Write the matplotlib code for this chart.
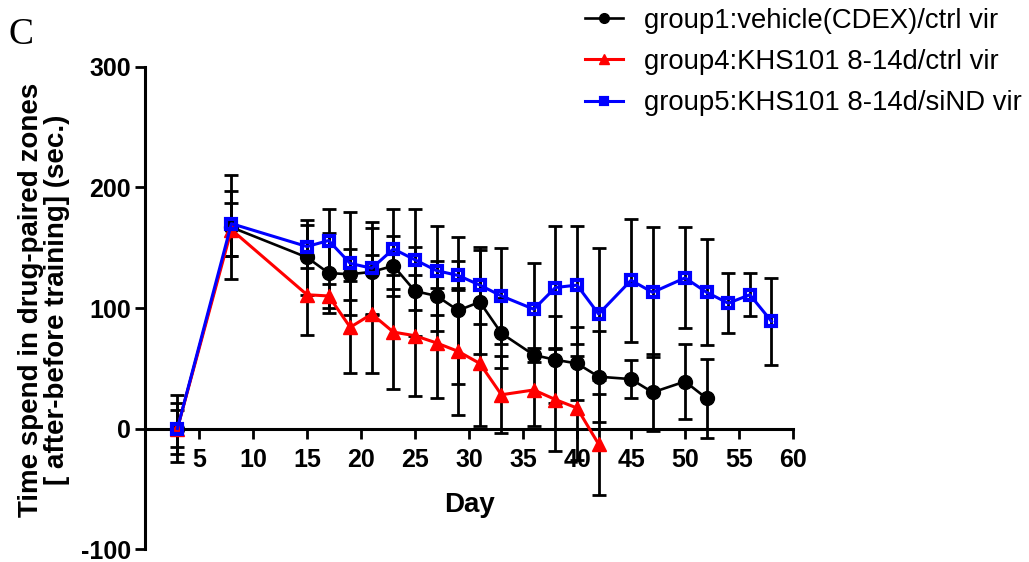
import numpy as np
import matplotlib.pyplot as plt

plt.rcParams['font.family'] = ['Liberation Sans', 'DejaVu Sans']
plt.rcParams['axes.unicode_minus'] = False

# group1: vehicle(CDEX)/ctrl vir
days_g1 = [3, 8, 15, 17, 19, 21, 23, 25, 27, 29, 31, 33, 36, 38, 40, 42, 45, 47, 50, 52]
mean_g1 = [0, 167, 142, 129, 128, 130, 135, 114, 110, 98, 105, 79, 61, 57, 54, 43, 41, 30, 39, 25]
err_g1 = [28, 43, 31, 33, 21, 36, 25, 37, 29, 61, 43, 29, 6, 36, 30, 38, 16, 32, 31, 33]

# group4: KHS101 8-14d/ctrl vir
days_g4 = [3, 8, 15, 17, 19, 21, 23, 25, 27, 29, 31, 33, 36, 38, 40, 42]
mean_g4 = [0, 165, 111, 110, 84, 95, 80, 77, 71, 64, 54, 28, 32, 24, 17, -13]
err_g4 = [15, 22, 33, 10, 38, 49, 47, 50, 46, 53, 52, 32, 30, 43, 43, 42]

# group5: KHS101 8-14d/siND vir
days_g5 = [3, 8, 15, 17, 19, 21, 23, 25, 27, 29, 31, 33, 36, 38, 40, 42, 45, 47, 50, 52, 54, 56, 58]
mean_g5 = [0, 170, 151, 156, 137, 133, 149, 140, 131, 127, 119, 110, 99, 117, 119, 95, 123, 113, 125, 113, 104, 111, 89]
err_g5 = [21, 27, 18, 26, 43, 38, 33, 42, 37, 12, 32, 40, 38, 51, 49, 55, 51, 54, 42, 44, 25, 18, 36]

labels = ['group1:vehicle(CDEX)/ctrl vir',
          'group4:KHS101 8-14d/ctrl vir',
          'group5:KHS101 8-14d/siND vir']

fig = plt.figure(figsize=(10.29, 5.62), dpi=100)
ax = fig.add_axes([0.1409, 0.0231, 0.6298, 0.8577])

# error bars are all black, drawn under the lines
for d, m, e in [(days_g1, mean_g1, err_g1), (days_g4, mean_g4, err_g4), (days_g5, mean_g5, err_g5)]:
    ax.errorbar(d, m, yerr=e, fmt='none', ecolor='black', elinewidth=2.0,
                capsize=5, capthick=2.0, zorder=2, clip_on=False)

l1, = ax.plot(days_g1, mean_g1, color='black', lw=1.9, marker='o', ms=10,
              zorder=3, clip_on=False)
l4, = ax.plot(days_g4, mean_g4, color='red', lw=2.2, marker='^', ms=10,
              zorder=4, clip_on=False)
l5, = ax.plot(days_g5, mean_g5, color='#0000ff', lw=2.2, marker='s', ms=6.5,
              mfc='none', mec='#0000ff', mew=3, zorder=5, clip_on=False)

ax.set_xlim(0, 60)
ax.set_ylim(-100, 300)
ax.set_xticks(np.arange(5, 61, 5))
ax.set_yticks([-100, 0, 100, 200, 300])

ax.spines['top'].set_visible(False)
ax.spines['right'].set_visible(False)
ax.spines['bottom'].set_position(('data', 0))
for s in ['left', 'bottom']:
    ax.spines[s].set_linewidth(2.2)
ax.tick_params(direction='out', length=7, width=2.0, labelsize=18)
ax.tick_params(axis='x', pad=7)
ax.tick_params(axis='y', pad=3)
for t in ax.get_xticklabels() + ax.get_yticklabels():
    t.set_fontweight('bold')

ax.set_xlabel('Day', fontsize=20, fontweight='bold')
ax.xaxis.set_label_coords(0.5, 0.118)

fig.text(44 / 1029, 1 - 300 / 562,
         'Time spend in drug-paired zones\n[ after-before training] (sec.)',
         rotation=90, ha='center', va='center', fontsize=20, fontweight='bold',
         multialignment='center', linespacing=1.0)

fig.text(8 / 1029, 1 - 35 / 562, 'C', family='Liberation Serif', fontsize=27,
         ha='left', va='center')

fig.legend([l1, l4, l5], labels, loc='upper left', bbox_to_anchor=(560 / 1029, 1.03),
           frameon=False, fontsize=19.8, handlelength=1.4, handletextpad=0.75,
           labelspacing=0.55, markerscale=0.7)

fig.savefig('out.png', dpi=100)
